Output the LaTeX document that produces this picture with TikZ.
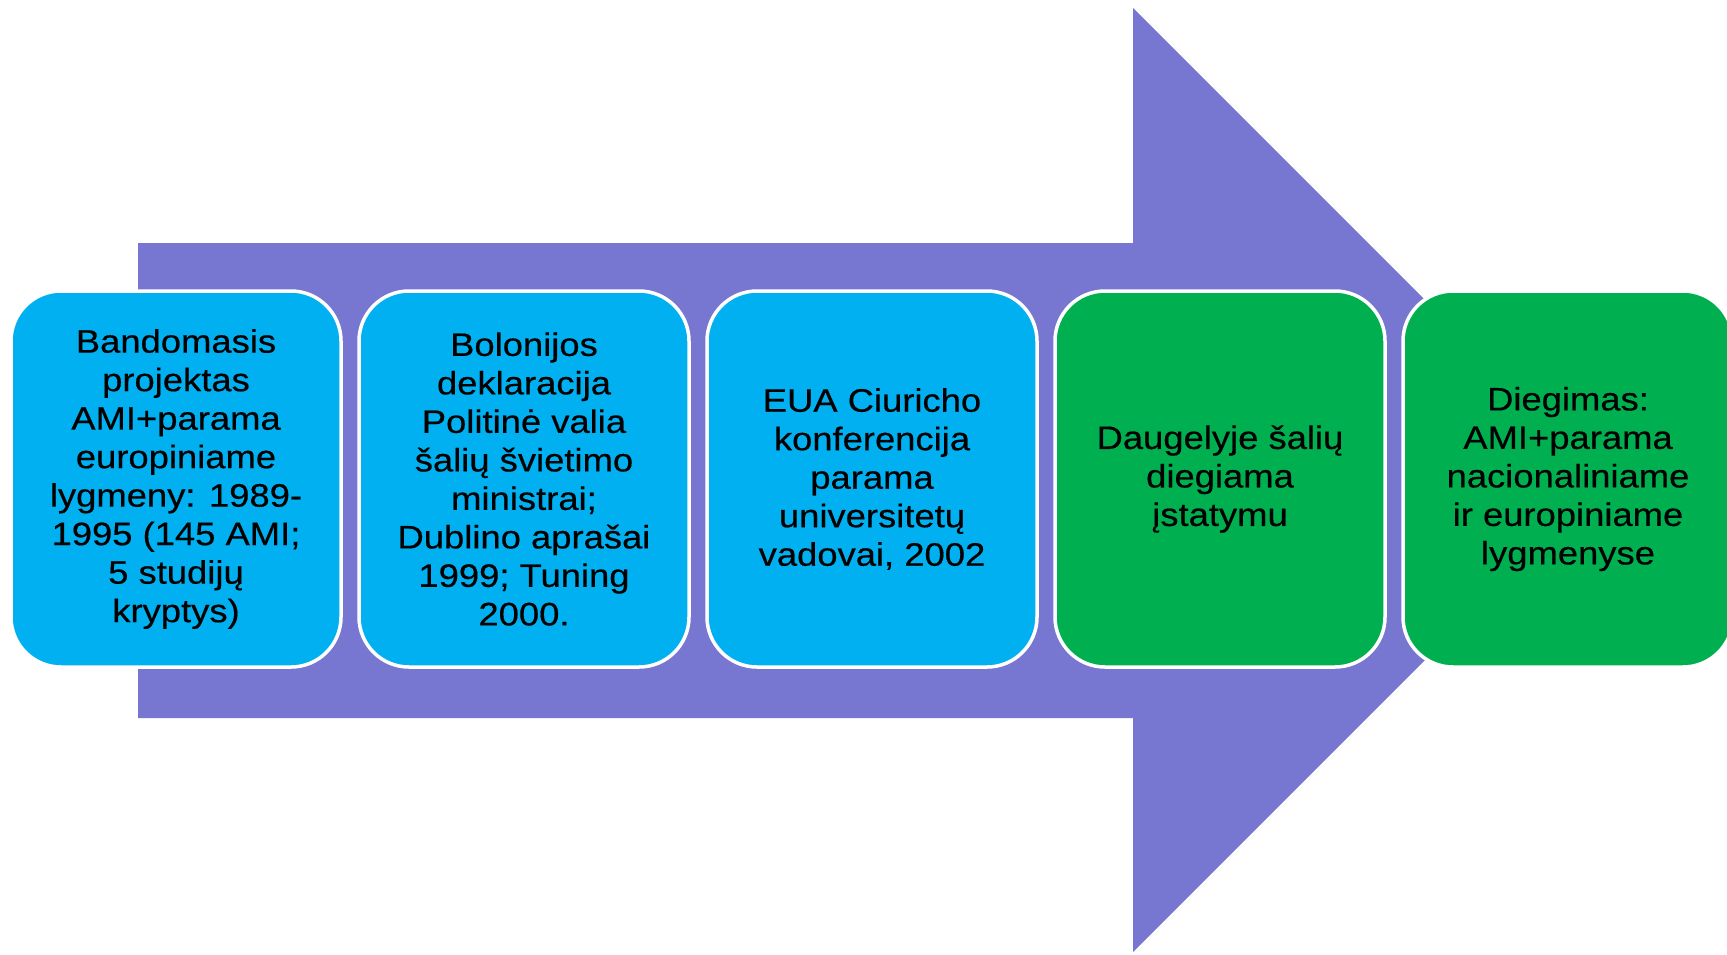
\documentclass[tikz,border=0pt]{standalone}
\usepackage{fontspec}
\setmainfont[FakeStretch=1.12,FakeBold=0.4]{Liberation Sans}
\definecolor{arrowpurple}{RGB}{119,118,208}
\definecolor{boxblue}{RGB}{0,176,240}
\definecolor{boxgreen}{RGB}{0,176,80}
\tikzset{
  stagebox/.style={rectangle, rounded corners=50pt, draw=white, line width=3.5pt,
    minimum width=330pt, minimum height=376pt, inner sep=0pt, align=center,
    text=black, font=\fontsize{32.5}{38.5}\selectfont},
  bluebox/.style={stagebox, fill=boxblue},
  greenbox/.style={stagebox, fill=boxgreen}
}
\begin{document}
\begin{tikzpicture}[x=1pt,y=-1pt]
\useasboundingbox (0,0) rectangle (1727,954);
\clip (0,0) rectangle (1727,954);
% big arrow
\fill[arrowpurple] (138,243) -- (1133,243) -- (1133,8) -- (1605,480) -- (1133,952) -- (1133,718) -- (138,718) -- cycle;
% stages
\node[bluebox] (s1) at (176,479) {Bandomasis\\projektas\\AMI+parama\\europiniame\\lygmeny: 1989-\\1995 (145 AMI;\\5 studijų\\kryptys)};
\node[bluebox] (s2) at (524,479) {Bolonijos\\deklaracija\\Politinė valia\\šalių švietimo\\ministrai;\\Dublino aprašai\\1999; Tuning\\2000.};
\node[bluebox] (s3) at (872,479) {EUA Ciuricho\\konferencija\\parama\\universitetų\\vadovai, 2002};
\node[greenbox] (s4) at (1220,479) {Daugelyje šalių\\diegiama\\įstatymu};
\node[greenbox] (s5) at (1568,479) {Diegimas:\\AMI+parama\\nacionaliniame\\ir europiniame\\lygmenyse};
\end{tikzpicture}
\end{document}
